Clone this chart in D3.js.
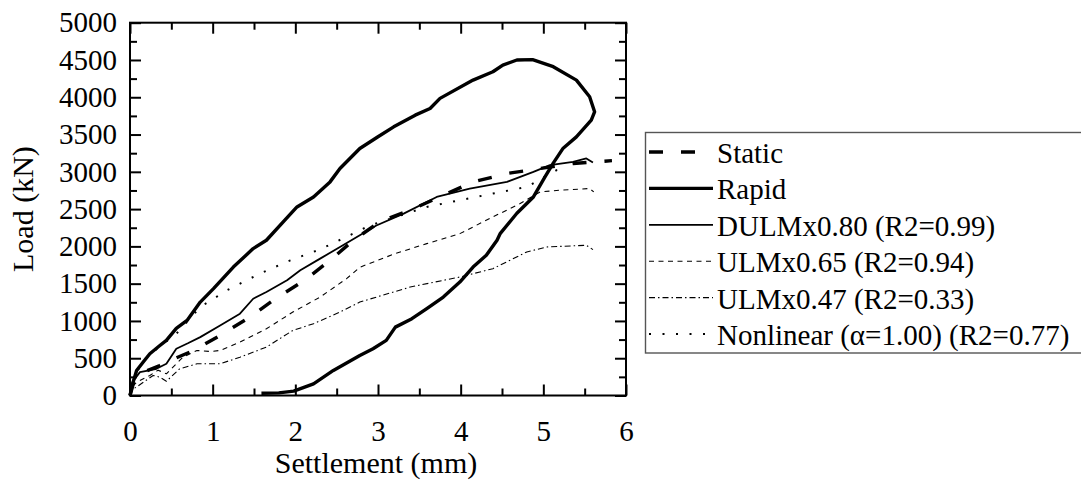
<!DOCTYPE html>
<html>
<head>
<meta charset="utf-8">
<script src="https://cdn.jsdelivr.net/npm/d3@7"></script>
<style>
  html, body { margin: 0; padding: 0; background: #fff; }
  svg { display: block; }
  text { font-family: "Liberation Serif", "Times New Roman", serif; fill: #000; }
</style>
</head>
<body>
<svg id="chart" width="1081" height="482"></svg>
<script>
// Load–settlement curves: [settlement (mm), load (kN)]
const staticTest = [[0,0],[0.05,200],[0.2,330],[0.36,403],[0.55,500],[0.77,604],[1.09,806],[1.45,1052],[1.73,1276],[2.14,1567],[2.46,1850],[2.70,2080],[3.02,2328],[3.43,2507],[3.79,2686],[4.15,2865],[4.56,2977],[4.96,3044],[5.36,3112],[5.83,3150]];
const rapidTest = [[0,0],[0.03,150],[0.08,336],[0.16,450],[0.24,560],[0.35,660],[0.44,739],[0.56,900],[0.69,1007],[0.85,1253],[1.01,1433],[1.25,1723],[1.49,1970],[1.65,2082],[1.87,2350],[2.02,2529],[2.22,2663],[2.42,2865],[2.54,3044],[2.78,3313],[3.0,3470],[3.19,3603],[3.45,3760],[3.63,3850],[3.75,3985],[4.15,4230],[4.39,4342],[4.51,4432],[4.68,4500],[4.87,4505],[5.12,4410],[5.40,4230],[5.56,4006],[5.62,3805],[5.58,3693],[5.40,3469],[5.24,3317],[5.12,3116],[5.02,2932],[4.88,2663],[4.68,2444],[4.48,2175],[4.44,2082],[4.31,1880],[4.15,1723],[3.99,1522],[3.79,1320],[3.59,1164],[3.41,1030],[3.21,917],[3.10,739],[2.94,627],[2.78,537],[2.46,336],[2.22,157],[1.98,58],[1.80,35],[1.59,31]];
const dulm080 = [[0,0],[0.03,180],[0.12,313],[0.2,330],[0.32,358],[0.44,425],[0.56,627],[0.7,700],[0.85,783],[1.09,940],[1.33,1097],[1.49,1298],[1.65,1388],[1.90,1545],[2.06,1679],[2.30,1836],[2.54,1992],[2.78,2150],[2.98,2280],[3.31,2440],[3.71,2663],[4.11,2776],[4.56,2865],[4.88,2999],[5.08,3089],[5.36,3133],[5.52,3179],[5.60,3125]];
const ulm065 = [[0,0],[0.03,120],[0.08,179],[0.24,269],[0.34,340],[0.44,291],[0.64,514],[0.81,604],[0.97,590],[1.09,604],[1.33,716],[1.65,895],[1.97,1119],[2.30,1320],[2.62,1567],[2.78,1720],[3.2,1900],[3.59,2037],[3.99,2171],[4.39,2395],[4.72,2574],[4.96,2730],[5.20,2753],[5.56,2776],[5.61,2730]];
const ulm047 = [[0,0],[0.03,80],[0.1,130],[0.28,269],[0.36,246],[0.44,190],[0.6,358],[0.81,425],[1.09,425],[1.33,514],[1.65,649],[1.97,873],[2.22,963],[2.54,1119],[2.78,1253],[3.39,1455],[3.99,1589],[4.39,1701],[4.80,1925],[5.04,1992],[5.52,2015],[5.60,1957]];
const nonlinear = [[0,0],[0.05,250],[0.16,470],[0.35,650],[0.56,828],[0.85,1186],[1.17,1410],[1.57,1634],[1.94,1813],[2.30,1960],[2.66,2150],[2.90,2280],[3.59,2529],[3.99,2619],[4.39,2708],[4.80,2798],[5.16,3022],[5.30,3049]];

const seriesNames = ["Static", "Rapid", "DULMx0.80 (R2=0.99)", "ULMx0.65 (R2=0.94)", "ULMx0.47 (R2=0.33)", "Nonlinear (\u03b1=1.00) (R2=0.77)"];
const xTicks = [0, 1, 2, 3, 4, 5, 6];
const yTicks = [0, 500, 1000, 1500, 2000, 2500, 3000, 3500, 4000, 4500, 5000];

const styles = [
  { w: 3.4, dash: "14,18" },
  { w: 3.4, dash: null },
  { w: 1.8, dash: null },
  { w: 1.1, dash: "5,4.5" },
  { w: 1.1, dash: "6,3,1.5,3" },
  { w: 2.0, dash: "2,11.5" }
];
const seriesData = [staticTest, rapidTest, dulm080, ulm065, ulm047, nonlinear];

const svg = d3.select("#chart");
const plotLeft = 130, plotRight = 626, plotTop = 22.7, plotBottom = 395.5;

const x = d3.scaleLinear().domain([0, 6]).range([plotLeft, plotRight]);
const y = d3.scaleLinear().domain([0, 5000]).range([plotBottom, plotTop]);

// curves
const line = d3.line().x(d => x(d[0])).y(d => y(d[1]));
const plot = svg.append("g");
seriesData.forEach((data, i) => {
  plot.append("path")
    .datum(data)
    .attr("d", line)
    .attr("fill", "none")
    .attr("stroke", "#000")
    .attr("stroke-width", styles[i].w)
    .attr("stroke-linejoin", "round")
    .attr("stroke-dasharray", styles[i].dash);
});

// axes with inward ticks on all four sides
const xMinor = d3.range(0.5, 6, 1);
const yMinor = d3.range(250, 5000, 500);
const axisStyle = g => {
  g.select(".domain").remove();
  g.selectAll("line").attr("stroke", "#000").attr("stroke-width", 2);
  g.selectAll("text").style("font-size", "29px").style("font-family", "'Liberation Serif', serif");
};

svg.append("g").attr("transform", `translate(0,${plotBottom})`)
  .call(d3.axisBottom(x).tickValues(xTicks).tickSize(-11).tickPadding(25).tickFormat(d3.format("d")))
  .call(axisStyle);
svg.append("g").attr("transform", `translate(0,${plotBottom})`)
  .call(d3.axisBottom(x).tickValues(xMinor).tickSize(-7).tickFormat(""))
  .call(axisStyle);
svg.append("g").attr("transform", `translate(0,${plotTop})`)
  .call(d3.axisTop(x).tickValues(xTicks).tickSize(-11).tickFormat(""))
  .call(axisStyle);
svg.append("g").attr("transform", `translate(0,${plotTop})`)
  .call(d3.axisTop(x).tickValues(xMinor).tickSize(-7).tickFormat(""))
  .call(axisStyle);

svg.append("g").attr("transform", `translate(${plotLeft},0)`)
  .call(d3.axisLeft(y).tickValues(yTicks).tickSize(-11).tickPadding(13).tickFormat(d3.format("d")))
  .call(axisStyle);
svg.append("g").attr("transform", `translate(${plotLeft},0)`)
  .call(d3.axisLeft(y).tickValues(yMinor).tickSize(-7).tickFormat(""))
  .call(axisStyle);
svg.append("g").attr("transform", `translate(${plotRight},0)`)
  .call(d3.axisRight(y).tickValues(yTicks).tickSize(-11).tickFormat(""))
  .call(axisStyle);
svg.append("g").attr("transform", `translate(${plotRight},0)`)
  .call(d3.axisRight(y).tickValues(yMinor).tickSize(-7).tickFormat(""))
  .call(axisStyle);

// frame
svg.append("rect")
  .attr("x", plotLeft).attr("y", plotTop)
  .attr("width", plotRight - plotLeft).attr("height", plotBottom - plotTop)
  .attr("fill", "none").attr("stroke", "#000").attr("stroke-width", 2);

// axis titles
svg.append("text")
  .attr("x", (plotLeft + plotRight) / 2 - 2).attr("y", 473)
  .attr("text-anchor", "middle")
  .style("font-size", "30px")
  .text("Settlement (mm)");
svg.append("text")
  .attr("transform", `translate(33,${(plotTop + plotBottom) / 2}) rotate(-90)`)
  .attr("text-anchor", "middle")
  .style("font-size", "30px")
  .text("Load (kN)");

// legend
const legend = svg.append("g");
legend.append("rect")
  .attr("x", 645.5).attr("y", 132.5)
  .attr("width", 460).attr("height", 220.5)
  .attr("fill", "none").attr("stroke", "#555").attr("stroke-width", 1.4);
const rowY = d3.scaleLinear().domain([0, 5]).range([152, 334]);
seriesNames.forEach((name, i) => {
  const yy = rowY(i);
  legend.append("line")
    .attr("x1", 649).attr("x2", i === 0 ? 697 : 713)
    .attr("y1", yy).attr("y2", yy)
    .attr("stroke", "#000")
    .attr("stroke-width", styles[i].w)
    .attr("stroke-dasharray", styles[i].dash);
  legend.append("text")
    .attr("x", 717).attr("y", yy + 11)
    .style("font-size", "29px")
    .text(name);
});
</script>
</body>
</html>
